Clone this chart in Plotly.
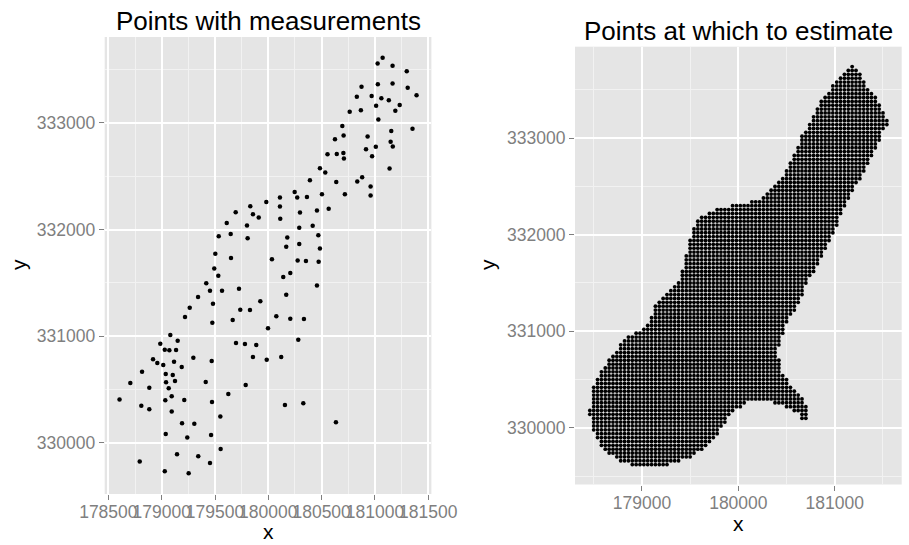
import numpy as np
import plotly.graph_objects as go

meas_x = [181072, 181025, 181165, 181298, 180874, 181027, 181165, 181307, 181390, 180830,
          180969, 181060, 181130, 181232, 181011, 181191, 180868, 180763, 181032, 181352,
          180694, 181153, 180625, 180706, 180931, 181147, 181167, 181008, 180916, 180973,
          180555, 180642, 180704, 180709, 181137, 180880, 180834, 180637, 180959, 180959,
          180718, 180484, 180534, 180390, 180247, 180109, 180271, 180362, 180503, 179981,
          179831, 180109, 179694, 179856, 179910, 180112, 180297, 180456, 180566, 179610,
          179800, 180290, 180416, 179535, 179647, 179806, 180178, 180469, 180168, 180290,
          180484, 179503, 179650, 180034, 180275, 180353, 180472, 179493, 179531, 180140,
          180206, 179418, 179453, 179566, 179725, 180456, 179341, 180168, 180075, 180206,
          180334, 179997, 180281, 179985, 180121, 179925, 179481, 179263, 179737, 179828,
          179219, 179666, 179475, 179081, 179150, 178987, 179697, 179781, 179887, 179029,
          179072, 179135, 178919, 178959, 179015, 179116, 179297, 179469, 179856, 179188,
          178816, 179038, 179104, 178706, 179041, 179125, 179413, 178884, 179066, 179788,
          178605, 179034, 179094, 179212, 179472, 179625, 178809, 178884, 179094, 179550,
          179191, 179306, 179038, 179240, 179463, 179553, 179144, 179343, 179453, 178794,
          179029, 179253, 180634, 180156, 180328]
meas_y = [333611, 333558, 333537, 333484, 333339, 333363, 333370, 333330, 333260, 333246,
          333252, 333231, 333212, 333168, 333161, 333115, 333119, 333104, 333031, 332946,
          332972, 332925, 332847, 332882, 332873, 332823, 332778, 332777, 332753, 332687,
          332707, 332708, 332717, 332666, 332573, 332491, 332451, 332446, 332404, 332320,
          332332, 332575, 332536, 332463, 332351, 332301, 332301, 332304, 332332, 332257,
          332219, 332216, 332163, 332144, 332113, 332100, 332160, 332179, 332194, 332060,
          332038, 332016, 332035, 331938, 331957, 331919, 331926, 331947, 331838, 331863,
          331823, 331772, 331732, 331720, 331710, 331704, 331697, 331635, 331566, 331554,
          331591, 331495, 331425, 331425, 331444, 331476, 331366, 331388, 331186, 331163,
          331160, 331073, 330966, 330778, 330804, 331326, 331304, 331266, 331247, 331245,
          331179, 331151, 331126, 331010, 330957, 330929, 330935, 330926, 330917, 330873,
          330867, 330870, 330783, 330748, 330729, 330760, 330798, 330767, 330804, 330710,
          330666, 330645, 330636, 330561, 330567, 330580, 330570, 330516, 330510, 330542,
          330406, 330398, 330436, 330401, 330382, 330457, 330348, 330314, 330292, 330245,
          330183, 330179, 330083, 330048, 330073, 329942, 329892, 329873, 329811, 329823,
          329733, 329714, 330192, 330354, 330370]

# ---- Outline of the prediction grid ----
bound_x = [181180, 181267, 181353, 181440, 181492, 181560, 181560, 181492, 181475, 181405,
           181353, 181267, 181197, 181128, 181059, 180990, 180903, 180817, 180713, 180626,
           180539, 180470, 180418, 180401, 180429, 180453, 180522, 180609, 180661, 180712,
           180725, 180643, 180626, 180539, 180470, 180401, 180297, 180228, 180124, 180055,
           179968, 179882, 179813, 179726, 179640, 179501, 179397, 179259, 178913, 178757,
           178636, 178549, 178497, 178480, 178440, 178440, 178480, 178491, 178532, 178601,
           178670, 178740, 178809, 178878, 178947, 179051, 179103, 179120, 179190, 179276,
           179363, 179415, 179449, 179484, 179519, 179571, 179640, 179709, 179882, 180021,
           180125, 180228, 180297, 180367, 180436, 180505, 180557, 180609, 180644, 180713,
           180782, 180851, 180903, 180990, 181076]
bound_y = [333760, 333656, 333518, 333397, 333276, 333190, 333140, 333086, 332982, 332844,
           332741, 332585, 332464, 332326, 332188, 332015, 331843, 331670, 331497, 331289,
           331151, 331013, 330840, 330806, 330702, 330564, 330478, 330391, 330305, 330236,
           330090, 330090, 330150, 330184, 330219, 330246, 330270, 330288, 330281, 330236,
           330184, 330080, 329977, 329873, 329787, 329700, 329649, 329610, 329600, 329666,
           329752, 329839, 329977, 330115, 330125, 330210, 330219, 330426, 330530, 330616,
           330720, 330806, 330909, 330961, 330996, 331048, 331168, 331238, 331324, 331410,
           331497, 331600, 331738, 331912, 332033, 332136, 332205, 332250, 332292, 332319,
           332343, 332378, 332447, 332516, 332585, 332672, 332775, 332896, 333000, 333103,
           333242, 333380, 333431, 333570, 333656]
grid_step = 40
grid_x_start, grid_x_end = 178460, 181540
grid_y_start, grid_y_end = 329620, 333740


def inside(px, py, vx, vy):
    vx = np.asarray(vx, float); vy = np.asarray(vy, float)
    res = np.zeros(px.shape, bool)
    n = len(vx)
    j = n - 1
    for i in range(n):
        xi, yi, xj, yj = vx[i], vy[i], vx[j], vy[j]
        cond = ((yi > py) != (yj > py))
        xint = (xj - xi) * (py - yi) / np.where(yj - yi == 0, 1e-9, yj - yi) + xi
        res ^= cond & (px < xint)
        j = i
    return res


gxs = np.arange(grid_x_start, grid_x_end + 1, grid_step)
gys = np.arange(grid_y_start, grid_y_end + 1, grid_step)
GX, GY = np.meshgrid(gxs, gys)
GX = GX.ravel(); GY = GY.ravel()
mask = inside(GX, GY, bound_x, bound_y)
grid_x = GX[mask]; grid_y = GY[mask]

W, H = 909, 545
FONT = "Liberation Sans, Arial, Helvetica, sans-serif"
GREY = "#7f7f7f"


def fx(p):
    return p / W


def fy(p):
    return 1 - p / H


def expand(vals, frac=0.05):
    lo, hi = float(np.min(vals)), float(np.max(vals))
    d = (hi - lo) * frac
    return [lo - d, hi + d]


fig = go.Figure()
fig.add_trace(go.Scatter(x=meas_x, y=meas_y, mode="markers", xaxis="x", yaxis="y",
                         marker=dict(color="black", size=4.5), showlegend=False))
fig.add_trace(go.Scatter(x=grid_x, y=grid_y, mode="markers", xaxis="x2", yaxis="y2",
                         marker=dict(color="black", size=3.8), showlegend=False))

axis_common = dict(
    showgrid=True, gridcolor="white", gridwidth=1.6, zeroline=False, showline=False,
    ticks="outside", ticklen=5, tickwidth=1.3, tickcolor=GREY, tickangle=0, automargin=False,
    tickfont=dict(family=FONT, size=17.5, color=GREY), tickformat="d",
)
xtra = dict(ticklabelstandoff=-3)

fig.update_layout(
    width=W, height=H, margin=dict(l=0, r=0, t=0, b=0),
    paper_bgcolor="white", plot_bgcolor="#E5E5E5",
    xaxis=dict(domain=[fx(104.7), fx(431.4)], range=expand(meas_x), anchor="y",
               tick0=178500, dtick=500,
               minor=dict(dtick=250, tick0=178500, showgrid=True, gridcolor="#F2F2F2", gridwidth=0.8),
               **axis_common, **xtra),
    yaxis=dict(domain=[fy(494), fy(37)], range=expand(meas_y), anchor="x",
               tick0=330000, dtick=1000,
               minor=dict(dtick=500, tick0=330000, showgrid=True, gridcolor="#F2F2F2", gridwidth=0.8),
               **axis_common),
    xaxis2=dict(domain=[fx(575), fx(901.7)], range=expand(grid_x), anchor="y2",
                tick0=179000, dtick=1000,
                minor=dict(dtick=500, tick0=179000, showgrid=True, gridcolor="#F2F2F2", gridwidth=0.8),
                **axis_common, **xtra),
    yaxis2=dict(domain=[fy(484.5), fy(46.7)], range=expand(grid_y), anchor="x2",
                tick0=330000, dtick=1000,
                minor=dict(dtick=500, tick0=330000, showgrid=True, gridcolor="#F2F2F2", gridwidth=0.8),
                **axis_common),
)

ann = []
ann.append(dict(text="Points with measurements", x=fx(268), y=fy(21), xref="paper", yref="paper",
                showarrow=False, font=dict(family=FONT, size=26, color="black"),
                xanchor="center", yanchor="middle"))
ann.append(dict(text="Points at which to estimate", x=fx(738), y=fy(31), xref="paper", yref="paper",
                showarrow=False, font=dict(family=FONT, size=26, color="black"),
                xanchor="center", yanchor="middle"))
for (xp, yp) in [(268, 531), (738, 523)]:
    ann.append(dict(text="x", x=fx(xp), y=fy(yp), xref="paper", yref="paper", showarrow=False,
                    font=dict(family=FONT, size=21, color="black"), xanchor="center", yanchor="middle"))
for (xp, yp) in [(18, 265), (487, 265)]:
    ann.append(dict(text="y", x=fx(xp), y=fy(yp), xref="paper", yref="paper", showarrow=False,
                    textangle=-90, font=dict(family=FONT, size=21, color="black"),
                    xanchor="center", yanchor="middle"))
fig.update_layout(annotations=ann)

fig.write_html("out.html")
